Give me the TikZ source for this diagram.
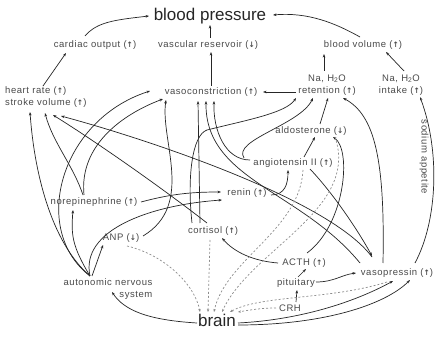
\documentclass[tikz,border=0pt]{standalone}
\usepackage{fontspec}
\setmainfont{Liberation Sans}
\newfontfamily\labfont[LetterSpace=6]{Liberation Sans}
\newfontfamily\arrfont{DejaVu Sans}
\usetikzlibrary{arrows.meta}
\definecolor{txt}{HTML}{4A4A4A}
\definecolor{ln}{HTML}{262626}
\definecolor{dsh}{HTML}{8C8C8C}
\newcommand\myup{{\arrfont\bfseries\fontsize{7.5}{8}\selectfont ↑}}
\newcommand\mydn{{\arrfont\bfseries\fontsize{7.5}{8}\selectfont ↓}}
\tikzset{
  lab/.style={font=\labfont\fontsize{9.5}{12}\selectfont, text=txt, inner sep=1pt},
  big/.style={font=\fontsize{17}{19}\selectfont, text=black!85, inner sep=1pt},
  ar/.style={-{Stealth[length=3.5pt,width=2.6pt]}, line width=0.7pt, draw=ln},
  da/.style={-{Stealth[length=3pt,width=2.4pt]}, line width=0.7pt, draw=dsh, dash pattern=on 2pt off 2pt},
}
\begin{document}
\begin{tikzpicture}[x=1pt,y=-1pt]
\fill[white] (0,0) rectangle (437,339);
\useasboundingbox (0,0) rectangle (437,339);
% nodes
\node[big] (bp) at (210,16) {blood pressure};
\node[lab] (co) at (95,45) {cardiac output (\myup)};
\node[lab] (vr) at (208,45) {vascular reservoir (\mydn)};
\node[lab] (bv) at (363,45) {blood volume (\myup)};
\node[lab,align=center] (ret) at (327,85) {Na, H\textsubscript{2}O\\retention (\myup)};
\node[lab,align=center] (int) at (401,85) {Na, H\textsubscript{2}O\\intake (\myup)};
\node[lab,align=left,anchor=west] (hs) at (4,97) {heart rate (\myup)\\stroke volume (\myup)};
\node[lab] (vc) at (211,92) {vasoconstriction (\myup)};
\node[lab] (ald) at (311,131) {aldosterone (\mydn)};
\node[lab] (ang) at (293,163) {angiotensin II (\myup)};
\node[lab] (ren) at (247,193) {renin (\myup)};
\node[lab] (ne) at (94,202) {norepinephrine (\myup)};
\node[lab] (cor) at (213,231) {cortisol (\myup)};
\node[lab] (anp) at (121,238) {ANP (\mydn)};
\node[lab] (acth) at (304,263) {ACTH (\myup)};
\node[lab] (pit) at (296,283) {pituitary};
\node[lab] (vp) at (397,273) {vasopressin (\myup)};
\node[lab] (crh) at (290,308) {CRH};
\node[lab,align=right] (ans) at (108,289) {autonomic nervous\\system};
\node[big] (brain) at (217,320) {brain};
\node[lab,rotate=-90] (sa) at (424,157) {sodium appetite};
% top part
\draw[ar] ([shift={(-10,-9)}]co.center) .. controls +(12,-14) and +(-35,4) .. ([shift={(-61,0)}]bp.center);
\draw[ar] ([shift={(2,-7)}]vr.center) -- ([shift={(0,9)}]bp.center);
\draw[ar] ([shift={(-3,-8)}]bv.center) .. controls +(-25,-14) and +(35,-3) .. ([shift={(63,-1)}]bp.center);
\draw[ar] ([shift={(3,-14)}]int.center) -- ([shift={(23,7)}]bv.center);
\draw[ar] ([shift={(-3,-14)}]ret.center) -- ([shift={(-39,9)}]bv.center);
\draw[ar] ([shift={(0,-6)}]vc.center) -- ([shift={(3,7)}]vr.center);
\draw[ar] ([shift={(-31,7)}]ret.center) -- ([shift={(52,0)}]vc.center);
\draw[ar] ([shift={(39,-11)}]hs.west) -- ([shift={(-29,8)}]co.center);
% autonomic nervous system fan
\draw[ar] ([shift={(-18,-13)}]ans.center) .. controls +(-35,-30) and +(5,70) .. ([shift={(26,15)}]hs.west);
\draw[ar] ([shift={(-18,-13)}]ans.center) .. controls +(-60,-46) and +(-90,29) .. ([shift={(-61,-1)}]vc.center);
\draw[ar] ([shift={(-18,-13)}]ans.center) .. controls +(-18,-30) and +(-2,25) .. ([shift={(-21,8)}]ne.center);
\draw[ar] ([shift={(-18,-13)}]ans.center) .. controls +(-10,-46) and +(-72,5) .. ([shift={(-25,7)}]ren.center);
\draw[ar] ([shift={(-16,-13)}]ans.center) -- ([shift={(-18,7)}]anp.center);
\draw[ar] ([shift={(-20,3)}]brain.center) .. controls +(-50,-3) and +(12,18) .. ([shift={(4,3)}]ans.center);
% norepinephrine
\draw[ar] ([shift={(-11,-7)}]ne.center) .. controls +(-10,-30) and +(8,30) .. ([shift={(41,16)}]hs.west);
\draw[ar] ([shift={(-10,-7)}]ne.center) .. controls +(-5,-50) and +(-40,15) .. ([shift={(-48,7)}]vc.center);
\draw[ar] ([shift={(47,0)}]ne.center) .. controls +(30,-8) and +(-30,0) .. ([shift={(-26,-1)}]ren.center);
% cortisol, ANP, vasopressin to stroke volume / vasoconstriction
\draw[ar] ([shift={(-6,-8)}]cor.center) .. controls +(-45,-35) and +(45,28) .. ([shift={(49,18)}]hs.west);
\draw[ar] ([shift={(-25,-16)}]vp.center) .. controls +(-42,-57) and +(89,24) .. ([shift={(57,19)}]hs.west);
\draw[ar] ([shift={(22,-2)}]anp.center) .. controls +(52,-31) and +(-6,40) .. ([shift={(-45,8)}]vc.center);
\draw[ar] ([shift={(-13,-8)}]cor.center) -- ([shift={(-13,9)}]vc.center);
\draw[ar] ([shift={(-21,-8)}]cor.center) .. controls +(-5,-45) and +(-15,5) .. ++(15,-93) .. controls +(40,-10) and +(-10,15) .. ([shift={(-31,13)}]ret.center);
\draw[ar] ([shift={(-43,-3)}]ang.center) .. controls +(-25,0) and +(-1,29) .. ([shift={(3,9)}]vc.center);
\draw[ar] ([shift={(-37,-10)}]vp.center) .. controls +(-60,-73) and +(-1,79) .. ([shift={(-5,9)}]vc.center);
% renin-angiotensin-aldosterone
\draw[ar] ([shift={(-49,-5)}]ang.center) .. controls +(-12,-18) and +(-13,27) .. ([shift={(-14,13)}]ret.center);
\draw[ar] ([shift={(9,-7)}]ald.center) -- ([shift={(1,13)}]ret.center);
\draw[ar] ([shift={(-14,-10)}]vp.center) .. controls +(2,-103) and +(32,17) .. ([shift={(16,13)}]ret.center);
\draw[ar] ([shift={(18,-10)}]vp.center) .. controls +(23,-43) and +(20,53) .. ([shift={(19,12)}]int.center);
\draw[ar] ([shift={(24,2)}]ren.center) .. controls +(14,0) and +(0,14) .. ([shift={(-5,7)}]ang.center);
\draw[ar] ([shift={(11,-6)}]ang.center) -- ([shift={(4,6)}]ald.center);
\draw[ar] ([shift={(17,6)}]ang.center) .. controls +(20,21) and +(-17,-31) .. ([shift={(-25,-17)}]vp.center);
% ACTH, pituitary, CRH
\draw[ar] ([shift={(3,-10)}]acth.center) .. controls +(38,-28) and +(19,13) .. ([shift={(22,6)}]ald.center);
\draw[ar] ([shift={(-26,0)}]acth.center) .. controls +(-25,-2) and +(12,14) .. ([shift={(9,7)}]cor.center);
\draw[ar] ([shift={(2,-6)}]pit.center) -- ([shift={(2,6)}]acth.center);
\draw[ar] ([shift={(20,-1)}]pit.center) .. controls +(18,0) and +(-15,2) .. ([shift={(-41,0)}]vp.center);
\draw[ar] ([shift={(6,-6)}]crh.center) -- ([shift={(1,7)}]pit.center);
\draw[ar] ([shift={(21,3)}]brain.center) .. controls +(60,-3) and +(-40,22) .. ([shift={(-4,8)}]vp.center);
\draw[ar] ([shift={(21,5)}]brain.center) .. controls +(85,0) and +(-25,25) .. ([shift={(13,7)}]vp.center);
% dashed feedback to brain
\draw[da] ([shift={(6,8)}]anp.center) .. controls +(38,9) and +(-5,-27) .. ([shift={(-17,-8)}]brain.center);
\draw[da] ([shift={(-3,9)}]cor.center) -- ([shift={(-9,-8)}]brain.center);
\draw[da] ([shift={(10,7)}]ang.center) .. controls +(-3,60) and +(11,-52) .. ([shift={(-3,-8)}]brain.center);
\draw[da] ([shift={(24,6)}]ald.center) .. controls +(25,73) and +(28,-62) .. ([shift={(5,-8)}]brain.center);
\draw[da] ([shift={(-10,9)}]vp.center) .. controls +(-57,18) and +(30,-17) .. ([shift={(13,-8)}]brain.center);
\draw[da] ([shift={(-14,0)}]crh.center) .. controls +(-15,0) and +(12,-2) .. ([shift={(21,-8)}]brain.center);
\end{tikzpicture}
\end{document}
